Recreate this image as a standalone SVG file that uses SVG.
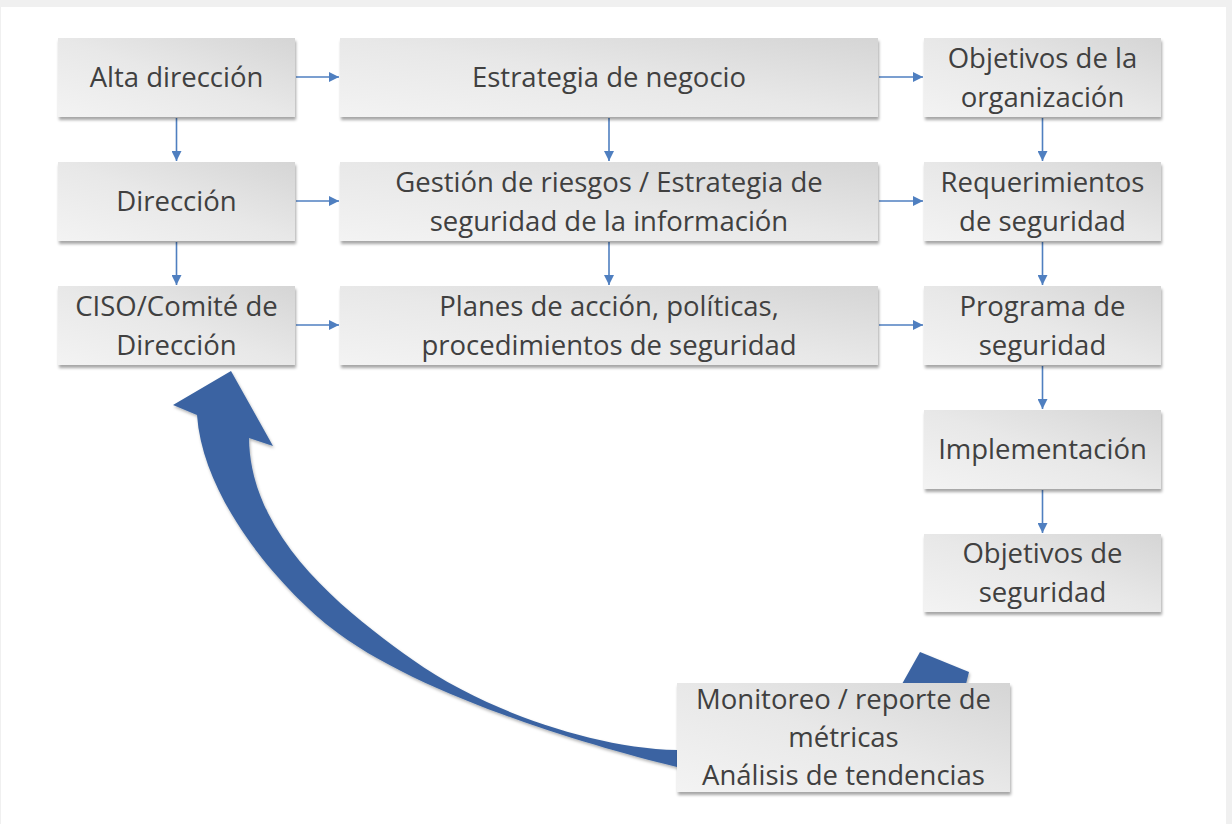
<svg xmlns="http://www.w3.org/2000/svg" width="1232" height="824" viewBox="0 0 1232 824">
<defs>
<linearGradient id="boxg" x1="0" y1="1" x2="1" y2="0">
<stop offset="0" stop-color="#f3f3f3"/>
<stop offset="0.5" stop-color="#e8e8e8"/>
<stop offset="1" stop-color="#d5d5d5"/>
</linearGradient>
<filter id="sh" x="-10%" y="-10%" width="125%" height="130%">
<feDropShadow dx="1" dy="3" stdDeviation="1.5" flood-color="#000" flood-opacity="0.35"/>
</filter>
<filter id="ash" x="-10%" y="-10%" width="125%" height="125%">
<feDropShadow dx="1" dy="2" stdDeviation="1.5" flood-color="#000" flood-opacity="0.3"/>
</filter>
<marker id="ah" viewBox="0 0 10 10" refX="10" refY="5" markerWidth="10" markerHeight="10" markerUnits="userSpaceOnUse" orient="auto">
<path d="M0,0 L10,5 L0,10 Z" fill="#4f7fc0"/>
</marker>
<style>
.box{fill:url(#boxg);filter:url(#sh);}
.t{font-family:"Open Sans","Noto Sans",sans-serif;font-size:27.5px;fill:#404040;text-anchor:middle;}
.c{stroke:#4f7fc0;stroke-width:1.6;fill:none;marker-end:url(#ah);}
.big{fill:#3b64a2;filter:url(#ash);}
</style>
</defs>
<rect x="0" y="0" width="1232" height="824" fill="#f0f0f0"/>
<rect x="1" y="7" width="1225" height="817" fill="#ffffff"/>

<g id="feedback-arrow">
<path class="big" d="M690,752 L677,750 C590,748 480,708 413,660 C350,615 250,540 249,438 L273,446 L231,371 L173,405 L197,415 C203,500 280,587 330,627 C410,691 577,743 677,767 L690,769 Z"/>
<path class="big" d="M920,652 L969,672 L966,684 L902,684 Z"/>
</g>

<g id="connectors">
<line class="c" x1="296" y1="77" x2="339" y2="77"/>
<line class="c" x1="879" y1="77" x2="923" y2="77"/>
<line class="c" x1="296" y1="201" x2="339" y2="201"/>
<line class="c" x1="879" y1="201" x2="923" y2="201"/>
<line class="c" x1="296" y1="325" x2="339" y2="325"/>
<line class="c" x1="879" y1="325" x2="923" y2="325"/>
<line class="c" x1="176.5" y1="118" x2="176.5" y2="161"/>
<line class="c" x1="176.5" y1="242" x2="176.5" y2="285"/>
<line class="c" x1="609" y1="118" x2="609" y2="161"/>
<line class="c" x1="609" y1="242" x2="609" y2="285"/>
<line class="c" x1="1042.5" y1="118" x2="1042.5" y2="161"/>
<line class="c" x1="1042.5" y1="242" x2="1042.5" y2="285"/>
<line class="c" x1="1042.5" y1="366" x2="1042.5" y2="409"/>
<line class="c" x1="1042.5" y1="490" x2="1042.5" y2="533"/>
</g>

<g id="alta-direccion"><rect class="box" x="58" y="38" width="237" height="79"/><text class="t" x="176.5" y="87">Alta dirección</text></g>
<g id="estrategia-negocio"><rect class="box" x="340" y="38" width="538" height="79"/><text class="t" x="609" y="87">Estrategia de negocio</text></g>
<g id="objetivos-organizacion"><rect class="box" x="924" y="38" width="237" height="79"/><text class="t" x="1042.5" y="68">Objetivos de la</text><text class="t" x="1042.5" y="107">organización</text></g>

<g id="direccion"><rect class="box" x="58" y="162" width="237" height="79"/><text class="t" x="176.5" y="211">Dirección</text></g>
<g id="gestion-riesgos"><rect class="box" x="340" y="162" width="538" height="79"/><text class="t" x="609" y="192">Gestión de riesgos / Estrategia de</text><text class="t" x="609" y="231">seguridad de la información</text></g>
<g id="requerimientos"><rect class="box" x="924" y="162" width="237" height="79"/><text class="t" x="1042.5" y="192">Requerimientos</text><text class="t" x="1042.5" y="231">de seguridad</text></g>

<g id="ciso"><rect class="box" x="58" y="286" width="237" height="79"/><text class="t" x="176.5" y="316">CISO/Comité de</text><text class="t" x="176.5" y="355">Dirección</text></g>
<g id="planes"><rect class="box" x="340" y="286" width="538" height="79"/><text class="t" x="609" y="316">Planes de acción, políticas,</text><text class="t" x="609" y="355">procedimientos de seguridad</text></g>
<g id="programa"><rect class="box" x="924" y="286" width="237" height="79"/><text class="t" x="1042.5" y="316">Programa de</text><text class="t" x="1042.5" y="355">seguridad</text></g>

<g id="implementacion"><rect class="box" x="924" y="410" width="237" height="79"/><text class="t" x="1042.5" y="459">Implementación</text></g>
<g id="objetivos-seguridad"><rect class="box" x="924" y="534" width="237" height="78"/><text class="t" x="1042.5" y="563">Objetivos de</text><text class="t" x="1042.5" y="602">seguridad</text></g>

<g id="monitoreo"><rect class="box" x="677" y="683" width="333" height="109"/><text class="t" x="843.5" y="709">Monitoreo / reporte de</text><text class="t" x="843.5" y="747">métricas</text><text class="t" x="843.5" y="785">Análisis de tendencias</text></g>
</svg>
